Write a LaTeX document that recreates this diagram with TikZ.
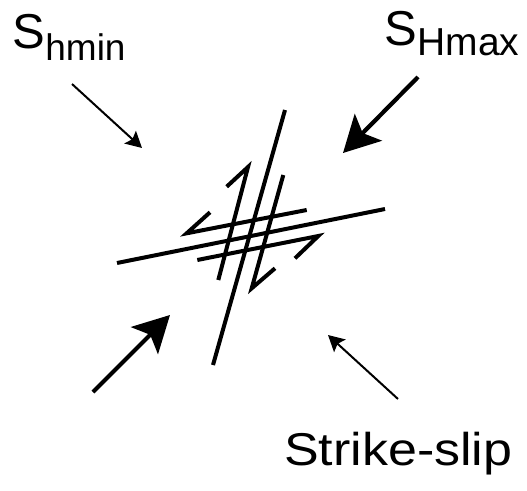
\documentclass[tikz,border=0pt]{standalone}
\usepackage{fontspec}
\setmainfont{Liberation Sans}
\usetikzlibrary{arrows.meta}
\begin{document}
\begin{tikzpicture}[x=1pt,y=-1pt,
  fault/.style={line width=4pt, line join=miter, line cap=butt},
  bigpush/.style={line width=4.2pt, -{Stealth[length=36pt,width=38pt,inset=8pt]}},
  smallpush/.style={line width=2pt, -{Stealth[length=16pt,width=17pt,inset=3pt]}},
  lbl/.style={inner sep=0pt, anchor=base west}]
  \useasboundingbox (0,0) rectangle (527,490);

  % stress labels
  \node[lbl] (shmin) at (12.5,48) {\fontsize{49}{49}\selectfont S\raisebox{-12pt}{\fontsize{37}{37}\selectfont hmin}};
  \node[lbl] (shmax) at (384.5,45) {\fontsize{49}{49}\selectfont S\raisebox{-10pt}{\fontsize{39}{39}\selectfont Hmax}};
  \node[lbl, xscale=1.13] (regime) at (284,465) {\fontsize{46}{46}\selectfont Strike-slip};

  % conjugate strike-slip faults
  \coordinate (hA) at (117,263);   \coordinate (hB) at (385,209);
  \coordinate (vA) at (285,110);   \coordinate (vB) at (213,365);
  \draw[fault] (hA) -- (hB);
  \draw[fault] (vA) -- (vB);

  % short fault traces with half-arrow slip markers
  \draw[fault] (218.3,280) -- (248,167) -- (226.7,186.7);
  \draw[fault] (283.3,175) -- (251.7,288.3) -- (275,268.3);
  \draw[fault] (306.7,210) -- (186.7,233.3) -- (210,212.3);
  \draw[fault] (197.3,260) -- (318.3,236) -- (295,258.3);

  % stress arrows
  \coordinate (minA0) at (72,84);    \coordinate (minA1) at (142,148);
  \coordinate (minB0) at (398,399);  \coordinate (minB1) at (328,335);
  \coordinate (maxA0) at (418,77);   \coordinate (maxA1) at (343,153);
  \coordinate (maxB0) at (93,392);   \coordinate (maxB1) at (170,315);
  \draw[smallpush] (minA0) -- (minA1);
  \draw[smallpush] (minB0) -- (minB1);
  \draw[bigpush] (maxA0) -- (maxA1);
  \draw[bigpush] (maxB0) -- (maxB1);
\end{tikzpicture}
\end{document}
